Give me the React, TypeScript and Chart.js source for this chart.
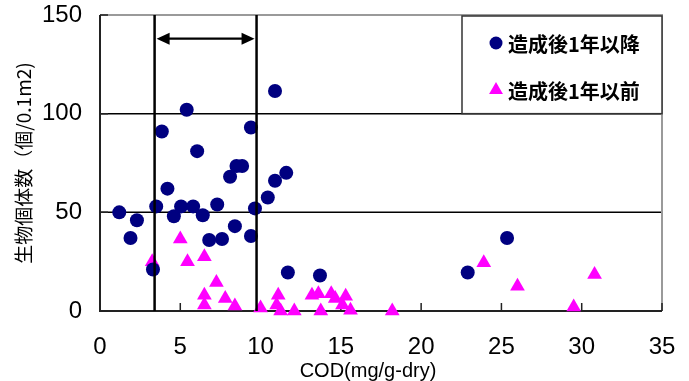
import React, { useEffect, useRef } from "react";
import { Chart, registerables } from "chart.js";

Chart.register(...registerables);

const seriesNames = ["造成後1年以降", "造成後1年以前"];
const seriesColors = ["#000080", "#FF00FF"];

// 造成後1年以降 (circles)
const afterCOD = [1.2, 1.9, 2.3, 3.3, 3.5, 3.85, 4.2, 4.6, 5.05, 5.4, 5.8, 6.05, 6.4, 6.8, 7.3, 7.6, 8.1, 8.4, 8.5, 8.85, 9.4, 9.4, 9.65, 10.45, 10.9, 10.9, 11.6, 11.7, 13.7, 22.9, 25.35];
const afterCount = [50, 37, 46, 21, 53, 91, 62, 48, 53, 102, 53, 81, 48.5, 36, 54, 36.5, 68, 43, 73.5, 73.5, 93, 38, 52, 57.5, 111.5, 66, 70, 19.5, 18, 19.5, 37];

// 造成後1年以前 (triangles)
const beforeCOD = [3.25, 5.0, 5.45, 6.5, 6.5, 6.5, 7.25, 7.8, 8.4, 10.0, 11.1, 11.0, 11.25, 12.1, 13.2, 13.6, 13.75, 14.4, 14.65, 15.3, 15.1, 15.6, 18.2, 23.9, 26.0, 29.5, 30.8];
const beforeCount = [25, 36.5, 25, 27.5, 8, 3, 14.5, 6.3, 2.5, 1.5, 8, 3, 0, 0, 8, 8.8, 0, 8.8, 6.3, 7.5, 3, 0.4, 0, 24.5, 12.5, 2, 18.5];

const xTicks = [0, 5, 10, 15, 20, 25, 30, 35];
const yTicks = [0, 50, 100, 150];
const gridLevels = [50, 100];
const rangeLines = [3.4, 9.75];
const arrowLevel = 138;
const legendBottomLevel = 100;

const xTitle = "COD(mg/g-dry)";
const yTitle = "生物個体数（個/0.1m2)";

const numFont = '"Liberation Sans", Arial, sans-serif';
const cjkFont = '"Noto Sans CJK JP", sans-serif';

const decorPlugin = {
  id: "decor",
  beforeDatasetsDraw(chart: any) {
    const { ctx, chartArea: a, scales } = chart;
    const x = scales.x;
    const y = scales.y;
    ctx.save();
    ctx.strokeStyle = "#000";
    ctx.lineWidth = 1.5;
    gridLevels.forEach((v) => {
      const py = y.getPixelForValue(v);
      ctx.beginPath();
      ctx.moveTo(a.left, py);
      ctx.lineTo(a.right, py);
      ctx.stroke();
    });
    // frame
    ctx.lineWidth = 2;
    ctx.strokeStyle = "#9a9a9a";
    ctx.beginPath();
    ctx.moveTo(a.left, a.top);
    ctx.lineTo(a.right, a.top);
    ctx.lineTo(a.right, a.bottom);
    ctx.stroke();
    ctx.strokeStyle = "#222";
    ctx.beginPath();
    ctx.moveTo(a.left, a.top);
    ctx.lineTo(a.left, a.bottom);
    ctx.lineTo(a.right, a.bottom);
    ctx.stroke();
    // inward tick marks
    ctx.lineWidth = 1.5;
    ctx.beginPath();
    xTicks.forEach((v) => {
      const px = x.getPixelForValue(v);
      ctx.moveTo(px, a.bottom);
      ctx.lineTo(px, a.bottom - 8);
    });
    yTicks.forEach((v) => {
      const py = y.getPixelForValue(v);
      ctx.moveTo(a.left, py);
      ctx.lineTo(a.left + 8, py);
    });
    ctx.stroke();
    ctx.restore();
  },
  afterDatasetsDraw(chart: any) {
    const { ctx, chartArea: a, scales } = chart;
    const x = scales.x;
    const y = scales.y;
    ctx.save();
    ctx.strokeStyle = "#000";
    ctx.lineWidth = 2.5;
    rangeLines.forEach((v) => {
      const px = x.getPixelForValue(v);
      ctx.beginPath();
      ctx.moveTo(px, a.top);
      ctx.lineTo(px, a.bottom);
      ctx.stroke();
    });
    // double-headed arrow
    const x1 = x.getPixelForValue(rangeLines[0]) + 2;
    const x2 = x.getPixelForValue(rangeLines[1]) - 2;
    const ay = y.getPixelForValue(arrowLevel);
    const hl = 13;
    const hw = 6;
    ctx.lineWidth = 2.2;
    ctx.beginPath();
    ctx.moveTo(x1 + hl - 2, ay);
    ctx.lineTo(x2 - hl + 2, ay);
    ctx.stroke();
    ctx.fillStyle = "#000";
    ctx.beginPath();
    ctx.moveTo(x1, ay);
    ctx.lineTo(x1 + hl, ay - hw);
    ctx.lineTo(x1 + hl, ay + hw);
    ctx.closePath();
    ctx.fill();
    ctx.beginPath();
    ctx.moveTo(x2, ay);
    ctx.lineTo(x2 - hl, ay - hw);
    ctx.lineTo(x2 - hl, ay + hw);
    ctx.closePath();
    ctx.fill();
    ctx.restore();
  },
  afterDraw(chart: any) {
    const { ctx, chartArea: a, scales } = chart;
    const y = scales.y;
    ctx.save();
    // x-axis title
    ctx.fillStyle = "#000";
    ctx.font = "20px " + numFont;
    ctx.textAlign = "center";
    ctx.textBaseline = "middle";
    ctx.fillText(xTitle, (a.left + a.right) / 2 - 13, 371);
    // legend
    const left = a.right - 200;
    const top = a.top + 1;
    const bottom = y.getPixelForValue(legendBottomLevel);
    ctx.fillStyle = "#fff";
    ctx.fillRect(left, top, a.right - left, bottom - top);
    ctx.strokeStyle = "#333";
    ctx.lineWidth = 1.5;
    ctx.strokeRect(left, top, a.right - left, bottom - top);
    const rows = [top + 27, top + 74];
    const mx = left + 34;
    ctx.fillStyle = seriesColors[0];
    ctx.beginPath();
    ctx.arc(mx, rows[0], 6.5, 0, Math.PI * 2);
    ctx.fill();
    ctx.fillStyle = seriesColors[1];
    const r = 8;
    ctx.beginPath();
    ctx.moveTo(mx, rows[1] - r);
    ctx.lineTo(mx + r * 0.866, rows[1] + r / 2);
    ctx.lineTo(mx - r * 0.866, rows[1] + r / 2);
    ctx.closePath();
    ctx.fill();
    ctx.fillStyle = "#000";
    ctx.font = "bold 20px " + cjkFont;
    ctx.textBaseline = "middle";
    ctx.textAlign = "left";
    ctx.fillText(seriesNames[0], left + 46, rows[0] + 1);
    ctx.fillText(seriesNames[1], left + 46, rows[1] + 1);
    ctx.restore();
  },
};

export default function App() {
  const ref = useRef<HTMLCanvasElement | null>(null);
  useEffect(() => {
    if (!ref.current) return;
    const chart = new Chart(ref.current, {
      type: "scatter",
      data: {
        datasets: [
          {
            label: seriesNames[0],
            data: afterCOD.map((v, i) => ({ x: v, y: afterCount[i] })),
            backgroundColor: seriesColors[0],
            borderWidth: 0,
            pointStyle: "circle",
            pointRadius: 7,
            clip: false,
          },
          {
            label: seriesNames[1],
            data: beforeCOD.map((v, i) => ({ x: v, y: beforeCount[i] })),
            backgroundColor: seriesColors[1],
            borderWidth: 0,
            pointStyle: "triangle",
            pointRadius: 8.5,
            clip: false,
          },
        ],
      },
      options: {
        animation: false,
        responsive: true,
        maintainAspectRatio: false,
        layout: { padding: { left: 0, right: 27, top: 15, bottom: 0 } },
        plugins: { legend: { display: false }, tooltip: { enabled: false } },
        scales: {
          x: {
            type: "linear",
            min: 0,
            max: 35,
            afterFit: (s: any) => {
              s.height = 70;
              s.paddingLeft = 0;
              s.paddingRight = 0;
              s.paddingTop = 0;
              s.paddingBottom = 0;
            },
            afterBuildTicks: (s: any) => {
              s.ticks = xTicks.map((v) => ({ value: v }));
            },
            grid: { display: false, drawTicks: false },
            border: { display: false },
            ticks: {
              color: "#000",
              padding: 22,
              maxRotation: 0,
              font: { family: numFont, size: 24 },
            },
          },
          y: {
            type: "linear",
            min: 0,
            max: 150,
            afterFit: (s: any) => {
              s.width = 100;
              s.paddingTop = 0;
              s.paddingBottom = 0;
              s.paddingLeft = 0;
              s.paddingRight = 0;
            },
            afterBuildTicks: (s: any) => {
              s.ticks = yTicks.map((v) => ({ value: v }));
            },
            grid: { display: false, drawTicks: false },
            border: { display: false },
            ticks: {
              color: "#000",
              padding: 18,
              font: { family: numFont, size: 24 },
            },
            title: {
              display: true,
              text: yTitle,
              color: "#000",
              padding: { top: 12, bottom: 0 },
              font: { family: cjkFont, size: 19, lineHeight: 1.2 },
            },
          },
        },
      },
      plugins: [decorPlugin],
    });
    return () => chart.destroy();
  }, []);
  return (
    <div style={{ position: "fixed", left: 0, top: 0, width: 689, height: 381, background: "#fff" }}>
      <canvas ref={ref} />
    </div>
  );
}
